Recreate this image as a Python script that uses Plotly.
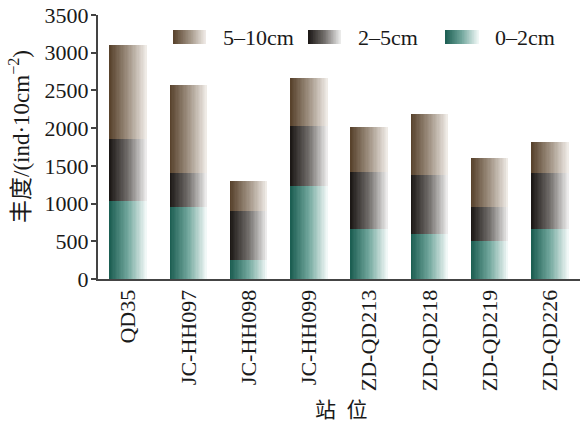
import plotly.graph_objects as go

# Station abundance by sediment depth layer (ind·10cm^-2)
stations = ["QD35", "JC-HH097", "JC-HH098", "JC-HH099",
            "ZD-QD213", "ZD-QD218", "ZD-QD219", "ZD-QD226"]
layer_0_2 = [1040, 950, 250, 1230, 660, 600, 500, 660]
layer_2_5 = [815, 450, 650, 800, 760, 780, 460, 750]
layer_5_10 = [1245, 1170, 400, 630, 590, 810, 650, 410]
layer_names = ["5–10cm", "2–5cm", "0–2cm"]
y_ticks = [0, 500, 1000, 1500, 2000, 2500, 3000, 3500]

W, H = 584, 426
ML, MR, MT, MB = 98, 4, 15, 147
FONT = "Liberation Serif, Noto Sans CJK SC, serif"

# left (dark) -> right (light) colour stops for each layer
grad = {
    "0–2cm": [(26, 92, 80), (115, 168, 158), (246, 251, 250)],
    "2–5cm": [(26, 22, 20), (115, 111, 108), (240, 240, 240)],
    "5–10cm": [(86, 64, 42), (160, 146, 131), (242, 238, 234)],
}


def shade(stops, t):
    if t <= 0.5:
        a, b, u = stops[0], stops[1], t / 0.5
    else:
        a, b, u = stops[1], stops[2], (t - 0.5) / 0.5
    return "rgb(%d,%d,%d)" % tuple(round(a[i] + (b[i] - a[i]) * u) for i in range(3))


N = 28
BAR_W = 0.62
step = BAR_W / N

fig = go.Figure()

base_2_5 = layer_0_2
base_5_10 = [a + b for a, b in zip(layer_0_2, layer_2_5)]
segments = [
    ("0–2cm", layer_0_2, [0] * len(stations)),
    ("2–5cm", layer_2_5, base_2_5),
    ("5–10cm", layer_5_10, base_5_10),
]

for name, vals, base in segments:
    for k in range(N):
        t = (k + 0.5) / N
        w = step * (1.6 if k < N - 1 else 1.0)
        fig.add_trace(go.Bar(
            x=stations, y=vals, base=base,
            offset=-BAR_W / 2 + k * step, width=w,
            marker=dict(color=shade(grad[name], t), line=dict(width=0)),
            showlegend=False, hoverinfo="skip",
        ))

pw = W - ML - MR
ph = H - MT - MB


def px_x(p):
    return (p - ML) / pw


def px_y(p):
    return (H - MB - p) / ph


# gradient legend keys
shapes = []
annotations = []
legend_items = [("5–10cm", 173, 206, 221), ("2–5cm", 308, 341, 356), ("0–2cm", 445, 479, 493)]
M = 20
for name, x0, x1, tx in legend_items:
    sw = (x1 - x0) / M
    for k in range(M):
        t = (k + 0.5) / M
        shapes.append(dict(
            type="rect", xref="paper", yref="paper",
            x0=px_x(x0 + k * sw), x1=px_x(x0 + (k + 1.6) * sw if k < M - 1 else x1),
            y0=px_y(44), y1=px_y(30),
            fillcolor=shade(grad[name], t), line=dict(width=0), layer="above",
        ))
    annotations.append(dict(
        text=name, xref="paper", yref="paper", x=px_x(tx), y=px_y(37),
        xanchor="left", yanchor="middle", showarrow=False,
        font=dict(family=FONT, size=22, color="#1a1a1a"),
    ))

annotations.append(dict(
    text="丰度/(ind·10cm<sup>−2</sup>)", xref="paper", yref="paper",
    x=px_x(19), y=px_y(137), xanchor="center", yanchor="middle",
    textangle=-90, showarrow=False, font=dict(family=FONT, size=23, color="#1a1a1a"),
))
annotations.append(dict(
    text="站  位", xref="paper", yref="paper",
    x=px_x(341), y=px_y(410), xanchor="center", yanchor="middle",
    showarrow=False, font=dict(family=FONT, size=21, color="#1a1a1a"),
))

fig.update_layout(
    width=W, height=H,
    margin=dict(l=ML, r=MR, t=MT, b=MB, pad=0),
    paper_bgcolor="white", plot_bgcolor="white",
    barmode="overlay", bargap=0,
    shapes=shapes, annotations=annotations,
    font=dict(family=FONT, size=22, color="#1a1a1a"),
)
fig.update_xaxes(
    range=[-0.5, len(stations) - 0.5], showgrid=False, zeroline=False,
    showline=True, linecolor="#444", linewidth=2, ticks="",
    tickangle=-90, tickfont=dict(family=FONT, size=22, color="#1a1a1a"),
    fixedrange=True,
)
fig.update_yaxes(
    range=[0, 3500], tickvals=y_ticks, showgrid=False, zeroline=False,
    showline=True, linecolor="#444", linewidth=2, ticks="outside",
    ticklen=5, tickwidth=2, tickcolor="#444", ticklabelstandoff=-2,
    tickfont=dict(family=FONT, size=22, color="#1a1a1a"),
    fixedrange=True,
)

fig.write_html("out.html")
